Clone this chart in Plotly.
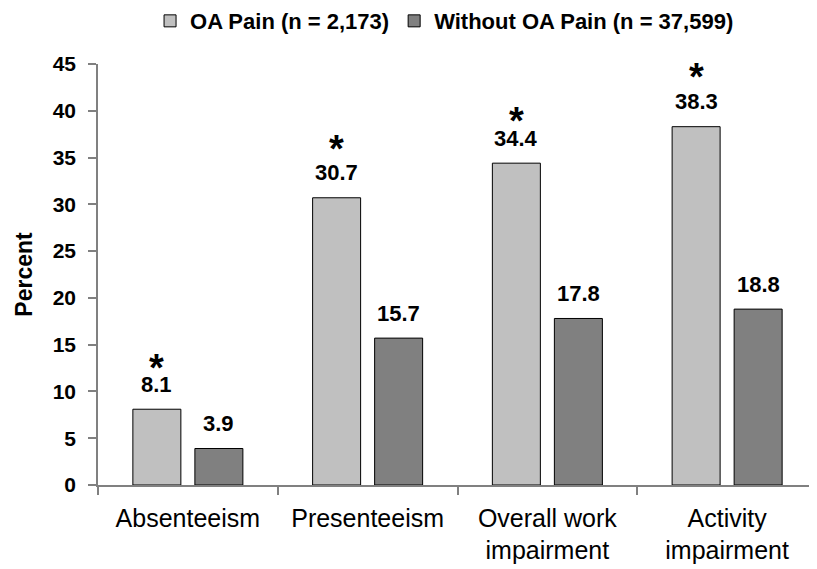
import plotly.graph_objects as go

categories = ["Absenteeism", "Presenteeism", "Overall work<br>impairment", "Activity<br>impairment"]
oa_pain = [8.1, 30.7, 34.4, 38.3]
without_oa = [3.9, 15.7, 17.8, 18.8]
oa_label = "OA Pain (n = 2,173)"
without_label = "Without OA Pain (n = 37,599)"
significant = [True, True, True, True]
y_ticks = [0, 5, 10, 15, 20, 25, 30, 35, 40, 45]

FONT = "Liberation Sans, Arial, sans-serif"

fig = go.Figure()
fig.add_trace(go.Bar(x=categories, y=oa_pain, name=oa_label,
                     marker=dict(color="#C0C0C0", line=dict(color="#000000", width=1))))
fig.add_trace(go.Bar(x=categories, y=without_oa, name=without_label,
                     marker=dict(color="#808080", line=dict(color="#000000", width=1))))

annotations = []
for cat, v in zip(categories, oa_pain):
    annotations.append(dict(x=cat, y=v, xref="x", yref="y", text=f"<b>{v}</b>", showarrow=False,
                            xshift=-31, yshift=25, yanchor="middle",
                            font=dict(family=FONT, size=22, color="#000")))
for cat, v in zip(categories, without_oa):
    annotations.append(dict(x=cat, y=v, xref="x", yref="y", text=f"<b>{v}</b>", showarrow=False,
                            xshift=31, yshift=25, yanchor="middle",
                            font=dict(family=FONT, size=22, color="#000")))
star_shift = [49, 57, 50, 58]
for cat, v, s, sh in zip(categories, oa_pain, significant, star_shift):
    if s:
        annotations.append(dict(x=cat, y=v, xref="x", yref="y", text="<b>*</b>", showarrow=False,
                                xshift=-31, yshift=sh - 8, yanchor="middle",
                                font=dict(family=FONT, size=38, color="#000")))

fig.update_layout(
    width=809, height=561,
    margin=dict(l=90, r=0, t=56, b=84, autoexpand=False),
    plot_bgcolor="white", paper_bgcolor="white",
    barmode="group", bargap=0.31, bargroupgap=0.226,
    font=dict(family=FONT, color="#000"),
    showlegend=True,
    legend=dict(orientation="h", x=0.482, xanchor="center", y=1.102, yref="paper", yanchor="middle",
                font=dict(family=FONT, size=22, color="#000", weight="bold"),
                itemwidth=30, tracegroupgap=0, bgcolor="rgba(0,0,0,0)"),
    annotations=annotations,
)
fig.update_xaxes(showline=True, linecolor="#808080", linewidth=1.5, ticks="outside", tickson="boundaries",
                 ticklen=8, tickcolor="#808080", tickwidth=1.5, automargin=False, ticklabelstandoff=10,
                 tickfont=dict(family=FONT, size=25, color="#000"), showgrid=False)
fig.update_yaxes(range=[0, 45], tickvals=y_ticks, showline=True, linecolor="#808080", linewidth=1.5,
                 ticks="outside", ticklen=8, tickcolor="#808080", tickwidth=1.5, showgrid=False,
                 zeroline=False, automargin=False, ticklabelstandoff=8,
                 tickfont=dict(family=FONT, size=21, color="#000", weight="bold"),
                 title=dict(text="<b>Percent</b>", font=dict(family=FONT, size=23, color="#000"), standoff=14))

fig.write_html("out.html")
